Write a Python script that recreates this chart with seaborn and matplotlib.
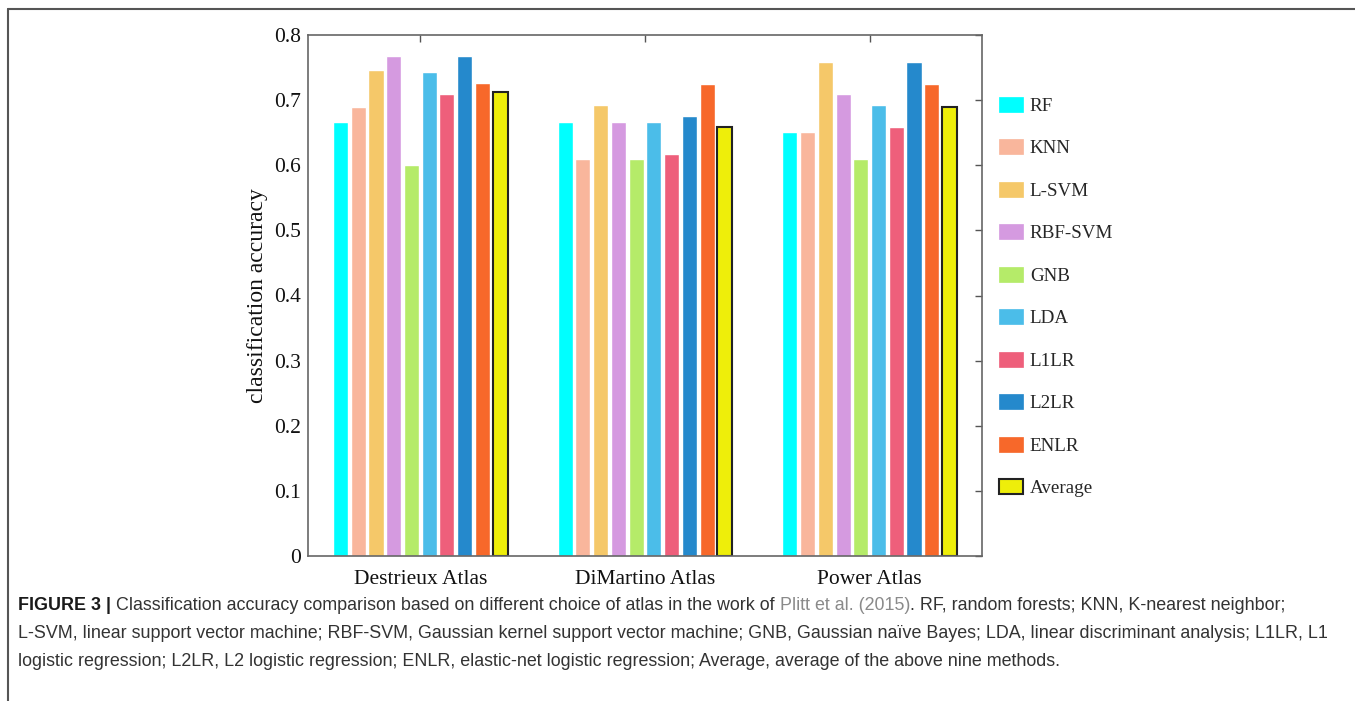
import numpy as np
import pandas as pd
import matplotlib
matplotlib.use("Agg")
import matplotlib.pyplot as plt
import seaborn as sns
from matplotlib.lines import Line2D

# data
atlases = ["Destrieux Atlas", "DiMartino Atlas", "Power Atlas"]
methods = ["RF", "KNN", "L-SVM", "RBF-SVM", "GNB", "LDA", "L1LR", "L2LR", "ENLR", "Average"]
destrieux = [0.667, 0.689, 0.746, 0.768, 0.600, 0.743, 0.710, 0.768, 0.726, 0.713]
dimartino = [0.667, 0.609, 0.692, 0.667, 0.609, 0.667, 0.618, 0.675, 0.725, 0.658]
power = [0.651, 0.651, 0.759, 0.710, 0.609, 0.693, 0.659, 0.759, 0.725, 0.690]
colors = ["#00FFFF", "#F9B69C", "#F5C869", "#D59AE0", "#B5EB69",
          "#4BBDE9", "#EE5F7B", "#2589CC", "#F7682A", "#EEEE0A"]
yticks = [0, 0.1, 0.2, 0.3, 0.4, 0.5, 0.6, 0.7, 0.8]
ytick_labels = ["0", "0.1", "0.2", "0.3", "0.4", "0.5", "0.6", "0.7", "0.8"]

rows = []
for atlas, vals in zip(atlases, [destrieux, dimartino, power]):
    for m, v in zip(methods, vals):
        rows.append({"atlas": atlas, "method": m, "accuracy": v})
df = pd.DataFrame(rows)

sns.set_style("white")
plt.rcParams["font.family"] = ["Liberation Serif", "DejaVu Serif"]

fig = plt.figure(figsize=(13.55, 7.01), dpi=100)
ax = fig.add_axes([308 / 1355, 1 - 556 / 701, 674 / 1355, 521 / 701])

sns.barplot(data=df, x="atlas", y="accuracy", hue="method", hue_order=methods,
            palette=dict(zip(methods, colors)), width=0.79, gap=0.15,
            saturation=1, ax=ax, legend=False)

# black outline on the average bars
for p in ax.containers[-1]:
    p.set_edgecolor("#222222")
    p.set_linewidth(1.5)

ax.set_ylim(0, 0.8)
ax.set_xlim(-0.5, 2.5)
ax.set_yticks(yticks)
ax.set_yticklabels(ytick_labels)
ax.set_xlabel("")
ax.set_ylabel("classification accuracy", fontsize=17, labelpad=4, color="#111111")
ax.tick_params(axis="both", direction="in", length=5, width=1, color="#555555",
               labelsize=15.5, top=True, right=True, labelcolor="#111111")
ax.tick_params(axis="x", pad=10)
ax.tick_params(axis="y", pad=5)
for s in ax.spines.values():
    s.set_visible(True)
    s.set_color("#666666")
    s.set_linewidth(1.2)

# legend to the right of the axes
handles = []
for m, c in zip(methods, colors):
    ec = "#222222" if m == "Average" else c
    handles.append(plt.Rectangle((0, 0), 1, 1, facecolor=c, edgecolor=ec,
                                 linewidth=1.5 if m == "Average" else 0.5))
fig.legend(handles, methods, loc="center left",
           bbox_to_anchor=(999 / 1355, 1 - 297 / 701), frameon=False,
           fontsize=13.7, labelspacing=1.28, handlelength=1.27, handleheight=0.85,
           handletextpad=0.35, borderaxespad=0, borderpad=0)

# frame lines of the figure panel
fig.add_artist(Line2D([8 / 1355, 1], [1 - 9 / 701] * 2, transform=fig.transFigure,
                      color="#555555", lw=1.5))
fig.add_artist(Line2D([8 / 1355] * 2, [0, 1 - 9 / 701], transform=fig.transFigure,
                      color="#555555", lw=1.5))

# caption
cap_font = ["Liberation Sans Narrow", "Liberation Sans", "DejaVu Sans"]
cap_size = 12.9
lines = [
    [("FIGURE 3 |", "bold", "#1a1a1a"),
     (" Classification accuracy comparison based on different choice of atlas in the work of ", "normal", "#333333"),
     ("Plitt et al. (2015)", "normal", "#8a8a8a"),
     (". RF, random forests; KNN, K-nearest neighbor;", "normal", "#333333")],
    [("L-SVM, linear support vector machine; RBF-SVM, Gaussian kernel support vector machine; GNB, Gaussian naïve Bayes; LDA, linear discriminant analysis; L1LR, L1", "normal", "#333333")],
    [("logistic regression; L2LR, L2 logistic regression; ENLR, elastic-net logistic regression; Average, average of the above nine methods.", "normal", "#333333")],
]
line_y = [606, 634, 662]

fig.canvas.draw()
renderer = fig.canvas.get_renderer()
for segs, yy in zip(lines, line_y):
    x = 18
    for txt, wt, col in segs:
        t = fig.text(x / 1355, 1 - yy / 701, txt, fontsize=cap_size, fontweight=wt,
                     color=col, family=cap_font, va="center", ha="left")
        bb = t.get_window_extent(renderer)
        x = bb.x1

fig.savefig("out.png", dpi=100)
